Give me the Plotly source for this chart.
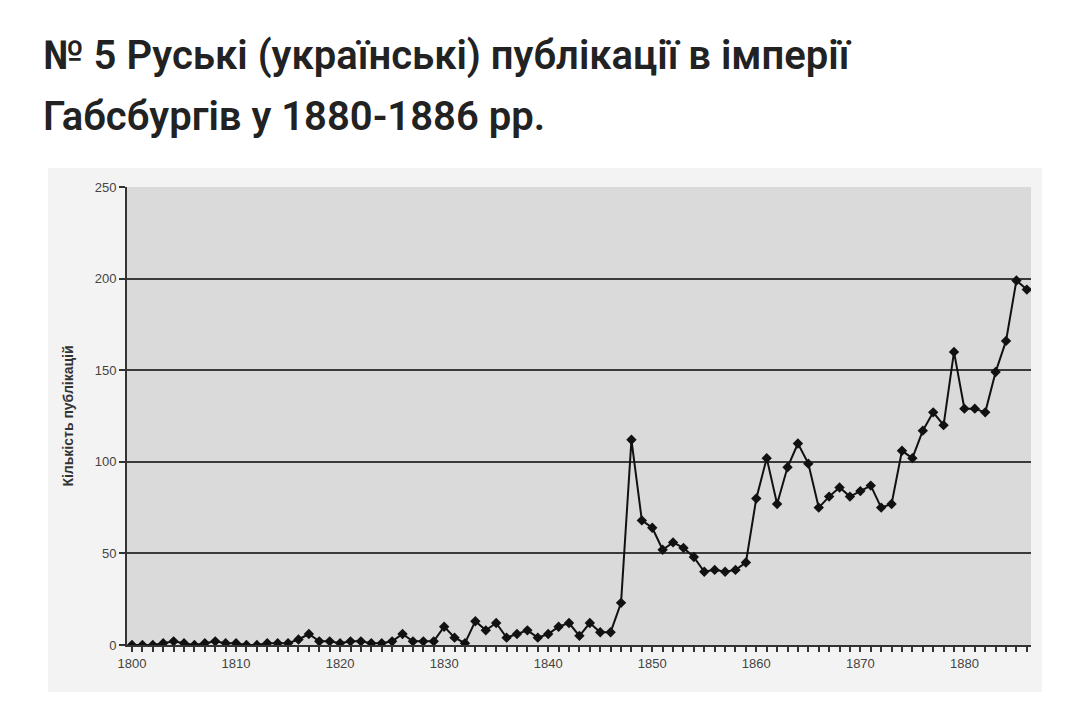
import plotly.graph_objects as go

years = list(range(1800, 1887))
publications = [
    0, 0, 0, 1, 2, 1, 0, 1, 2, 1,        # 1800-1809
    1, 0, 0, 1, 1, 1, 3, 6, 2, 2,        # 1810-1819
    1, 2, 2, 1, 1, 2, 6, 2, 2, 2,        # 1820-1829
    10, 4, 1, 13, 8, 12, 4, 6, 8, 4,     # 1830-1839
    6, 10, 12, 5, 12, 7, 7, 23, 112, 68, # 1840-1849
    64, 52, 56, 53, 48, 40, 41, 40, 41, 45,  # 1850-1859
    80, 102, 77, 97, 110, 99, 75, 81, 86, 81,  # 1860-1869
    84, 87, 75, 77, 106, 102, 117, 127, 120, 160,  # 1870-1879
    129, 129, 127, 149, 166, 199, 194,   # 1880-1886
]
x_tick_labels = ["1800", "1810", "1820", "1830", "1840", "1850", "1860", "1870", "1880"]
y_ticks = [0, 50, 100, 150, 200, 250]

title_line1 = "№ 5 Руські (українські) публікації в імперії"
title_line2 = "Габсбургів у 1880-1886 рр."
y_title = "Кількість публікацій"

tickvals = years
ticktext = [str(y) if str(y) in x_tick_labels else "" for y in years]

# page offset (body margin) compensation
OFF = 8
W, H = 1080 - OFF, 711 - OFF
L, R, T, B = 127 - OFF, 1031 - OFF, 187 - OFF, 645 - OFF
pw, ph = R - L, B - T

def px_x(x):
    return (x - OFF - L) / pw

def px_y(y):
    return (B - (y - OFF)) / ph

fig = go.Figure()
fig.add_trace(go.Scatter(
    x=years, y=publications, mode="lines+markers",
    line=dict(color="#111111", width=2),
    marker=dict(symbol="diamond", size=8, color="#111111"),
    showlegend=False,
))

fig.update_layout(
    width=W, height=H,
    margin=dict(l=L, r=W - R, t=T, b=H - B),
    paper_bgcolor="white",
    plot_bgcolor="#dadada",
    shapes=[
        dict(type="rect", xref="paper", yref="paper", layer="below",
             x0=px_x(48), x1=px_x(1042), y0=px_y(692), y1=px_y(168),
             fillcolor="#f3f3f3", line=dict(width=0)),
        dict(type="rect", xref="paper", yref="paper", layer="below",
             x0=0, x1=1, y0=0, y1=1,
             fillcolor="#dadada", line=dict(width=0)),
    ],
    annotations=[
        dict(text=title_line1, xref="paper", yref="paper", x=px_x(41), y=px_y(55),
             xanchor="left", yanchor="middle", showarrow=False,
             font=dict(family="Roboto", size=40, color="#222222", weight=600)),
        dict(text=title_line2, xref="paper", yref="paper", x=px_x(41), y=px_y(117),
             xanchor="left", yanchor="middle", showarrow=False,
             font=dict(family="Roboto", size=40, color="#222222", weight=600)),
    ],
    xaxis=dict(
        range=[1799.52, 1886.4],
        tickmode="array", tickvals=tickvals, ticktext=ticktext,
        ticks="outside", ticklen=5, tickcolor="#333333", tickwidth=1.5,
        showline=True, linecolor="#333333", linewidth=2,
        showgrid=False, zeroline=False,
        tickfont=dict(family="Liberation Sans", size=13, color="#444444"),
    ),
    yaxis=dict(
        range=[0, 250],
        tickmode="array", tickvals=y_ticks,
        ticks="outside", ticklen=6, tickcolor="#333333", tickwidth=1.5,
        showline=True, linecolor="#333333", linewidth=2,
        showgrid=True, gridcolor="#3a3a3a", gridwidth=2,
        zeroline=False,
        tickfont=dict(family="Liberation Sans", size=13, color="#444444"),
        title=dict(text=y_title, standoff=18,
                   font=dict(family="Liberation Sans", size=14, color="#333333", weight="bold")),
    ),
)

fig.write_html("out.html")
